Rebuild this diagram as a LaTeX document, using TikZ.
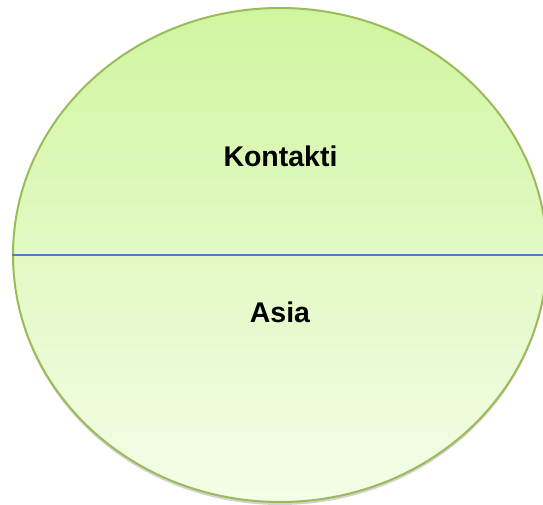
\documentclass[tikz,border=0pt]{standalone}
\usepackage{fontspec}
\setmainfont{Liberation Sans}
\usetikzlibrary{shapes.geometric,shadows}
\definecolor{rimgreen}{HTML}{9BBB59}
\definecolor{topgreen}{HTML}{D0F5A0}
\definecolor{palegreen}{HTML}{F4FDE8}
\definecolor{splitblue}{HTML}{4F81BD}
\tikzset{
  disc/.style={ellipse, draw=rimgreen, line width=2pt, top color=topgreen, bottom color=palegreen,
    minimum width=534pt, minimum height=494pt, inner sep=0pt,
    drop shadow={shadow xshift=0pt, shadow yshift=-3pt, opacity=0.35}},
  divider/.style={draw=splitblue, line width=2pt},
  label/.style={font=\bfseries\fontsize{28.5}{32}\selectfont, inner sep=0pt}
}
\begin{document}
\begin{tikzpicture}[x=1pt,y=1pt]
\useasboundingbox (0,0) rectangle (543,505);
\clip (0,0) rectangle (543,505);
\node[disc] (blob) at (280,250) {};
\draw[divider] (blob.west) -- (blob.east);
\node[label] (top) at (280.5,349) {Kontakti};
\node[label] (bottom) at (280,193) {Asia};
\end{tikzpicture}
\end{document}
